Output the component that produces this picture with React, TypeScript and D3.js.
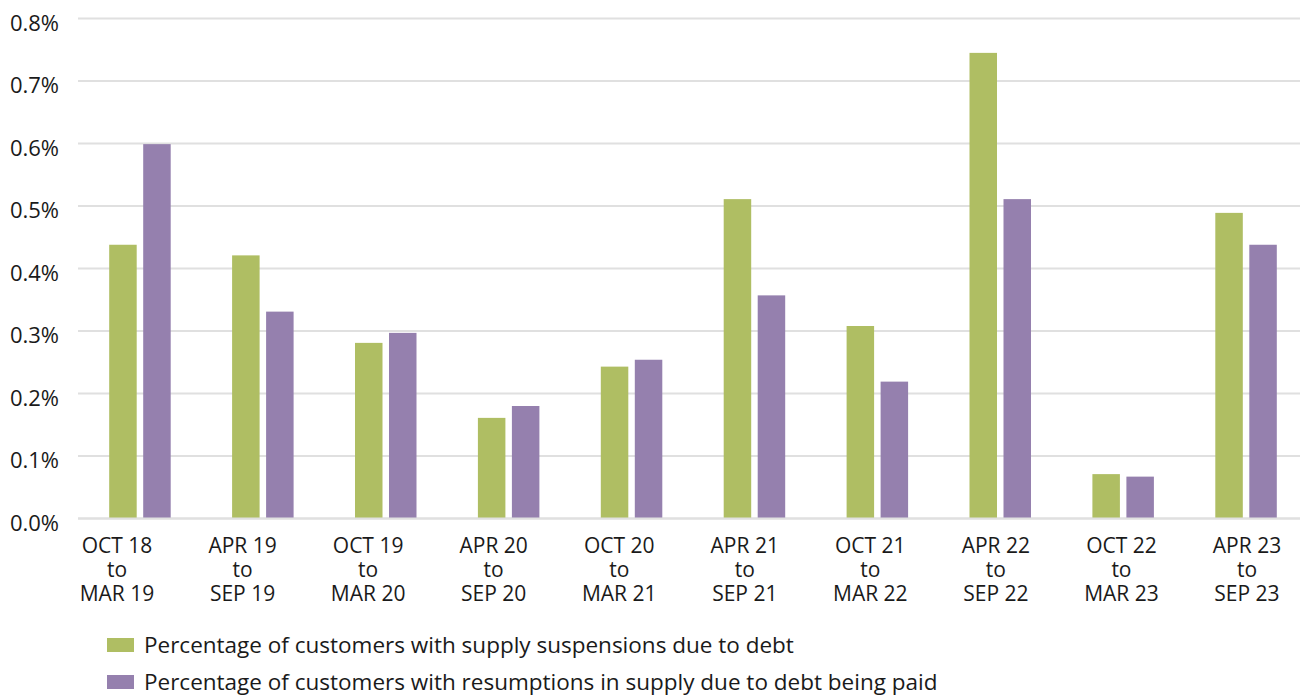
import React from "react";
import * as d3 from "d3";

const categories = [
  ["OCT 18", "to", "MAR 19"],
  ["APR 19", "to", "SEP 19"],
  ["OCT 19", "to", "MAR 20"],
  ["APR 20", "to", "SEP 20"],
  ["OCT 20", "to", "MAR 21"],
  ["APR 21", "to", "SEP 21"],
  ["OCT 21", "to", "MAR 22"],
  ["APR 22", "to", "SEP 22"],
  ["OCT 22", "to", "MAR 23"],
  ["APR 23", "to", "SEP 23"],
];
const suspensions = [0.438, 0.421, 0.281, 0.161, 0.243, 0.511, 0.308, 0.745, 0.071, 0.489];
const resumptions = [0.599, 0.331, 0.297, 0.180, 0.254, 0.357, 0.219, 0.511, 0.067, 0.438];
const yTicks = [0, 0.1, 0.2, 0.3, 0.4, 0.5, 0.6, 0.7, 0.8];
const seriesNames = [
  "Percentage of customers with supply suspensions due to debt",
  "Percentage of customers with resumptions in supply due to debt being paid",
];
const colors = ["#AFBE63", "#9580AE"];

const W = 1300;
const H = 697;
const FONT = "'Open Sans', 'Noto Sans', sans-serif";

export default function App() {
  const y = d3.scaleLinear().domain([0, 0.8]).range([518.5, 18.5]);
  const idx = categories.map((_, i) => String(i));
  const xBand = d3.scaleBand().domain(idx).range([78.5, 1307.5]).paddingInner(0).paddingOuter(0);
  const xLabel = d3.scalePoint().domain(idx).range([117, 1247]);
  const barW = 27.5;
  const gap = 6.5;
  const series = [suspensions, resumptions];

  return (
    <svg width={W} height={H} style={{ position: "absolute", left: 0, top: 0, background: "#fff" }}>
      <rect x={0} y={0} width={W} height={H} fill="#fff" />
      {yTicks.map((t) => (
        <g key={t}>
          <line x1={78} x2={W} y1={y(t)} y2={y(t)} stroke="#E0E0E0" strokeWidth={2} />
          <text
            x={59}
            y={y(t) + 12}
            textAnchor="end"
            fontFamily={FONT}
            fontSize={22}
            fill="#1a1a1a"
          >
            {d3.format(".1f")(t * 1)}%
          </text>
        </g>
      ))}
      {series.map((vals, s) =>
        vals.map((v, i) => {
          const cx = (xBand(String(i)) as number) + xBand.bandwidth() / 2;
          const x0 = s === 0 ? cx - gap / 2 - barW : cx + gap / 2;
          return (
            <rect
              key={`${s}-${i}`}
              x={x0}
              y={y(v)}
              width={barW}
              height={y(0) - y(v)}
              fill={colors[s]}
            />
          );
        })
      )}
      <line x1={78} x2={W} y1={y(0)} y2={y(0)} stroke="#E0E0E0" strokeWidth={2} />
      {categories.map((lines, i) => (
        <text
          key={i}
          x={xLabel(String(i))}
          textAnchor="middle"
          fontFamily={FONT}
          fontSize={21}
          fill="#1a1a1a"
        >
          {lines.map((l, j) => (
            <tspan key={j} x={xLabel(String(i))} y={553 + j * 24}>
              {l}
            </tspan>
          ))}
        </text>
      ))}
      {seriesNames.map((name, s) => (
        <g key={name} transform={`translate(107, ${638 + s * 37})`}>
          <rect x={0} y={0} width={27} height={14} fill={colors[s]} />
          <text x={37} y={15} fontFamily={FONT} fontSize={22.5} fill="#1a1a1a">
            {name}
          </text>
        </g>
      ))}
    </svg>
  );
}
